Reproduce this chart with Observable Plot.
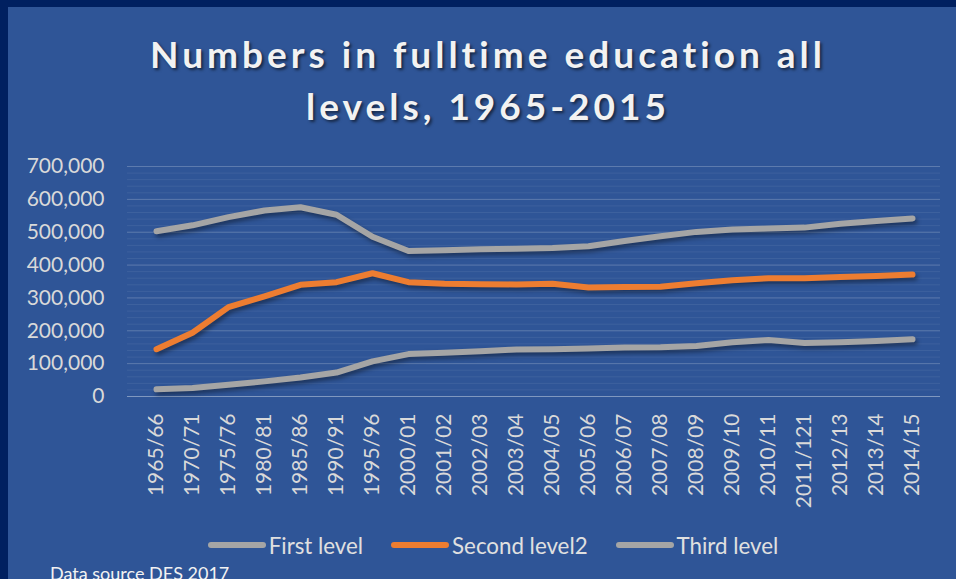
<!DOCTYPE html>
<html>
<head>
<meta charset="utf-8">
<script src="https://cdn.jsdelivr.net/npm/d3@7"></script>
<script src="https://cdn.jsdelivr.net/npm/@observablehq/plot@0.6"></script>
<style>
  html, body { margin: 0; padding: 0; width: 956px; height: 579px; overflow: hidden; background: #002060; }
  #panel { position: absolute; left: 8px; top: 7px; width: 948px; height: 572px; background: #2f5597; }
  #title { position: absolute; left: 10px; width: 956px; top: 28px; text-align: center; font-family: Lato, "Open Sans", sans-serif; font-weight: 700; font-size: 37px; line-height: 52px; letter-spacing: 4px; color: #f2f2f2; text-shadow: 2px 2px 3px rgba(0,0,0,0.55); }
  #chart { position: absolute; left: 0; top: 150px; }
  #legend { position: absolute; left: 0; width: 956px; top: 530px; height: 30px; display: flex; justify-content: center; align-items: center; font-family: Lato, sans-serif; font-size: 22.3px; color: #e0e0e0; padding-left: 30px; box-sizing: border-box; }
  .item { display: flex; align-items: center; margin: 0 14px; }
  .sw { width: 58px; height: 6px; border-radius: 3px; margin-right: 3px; }
  #caption { position: absolute; left: 50px; top: 562px; font-family: Lato, sans-serif; font-size: 18px; line-height: 22px; color: #f2f2f2; }
</style>
</head>
<body>
<div id="panel"></div>
<div id="title">Numbers in fulltime education all<br>levels, 1965-2015</div>
<div id="chart"></div>
<div id="legend"></div>
<div id="caption">Data source DES 2017</div>
<script>
const years = ["1965/66","1970/71","1975/76","1980/81","1985/86","1990/91","1995/96","2000/01","2001/02","2002/03","2003/04","2004/05","2005/06","2006/07","2007/08","2008/09","2009/10","2010/11","2011/121","2012/13","2013/14","2014/15"];
const seriesNames = ["First level", "Second level2", "Third level"];
const firstLevel  = [503000,521000,546000,566000,576000,553000,486000,443000,445000,448000,450000,452000,457000,473000,488000,501000,508000,511000,514000,526000,534000,542000];
const secondLevel = [144000,194000,272000,305000,340000,348000,375000,348000,343000,342000,341000,343000,332000,333000,334000,345000,354000,360000,360000,364000,367000,371000];
const thirdLevel  = [22000,26000,36000,46000,58000,73000,107000,129000,133000,138000,143000,144000,146000,149000,150000,154000,165000,172000,163000,165000,169000,174000];
const seriesColors = ["#a5a5a5", "#ed7d31", "#a5a5a5"];
const yTicks = [0,100000,200000,300000,400000,500000,600000,700000];
const minorTicks = d3.range(0, 700001, 20000);

const allSeries = [firstLevel, secondLevel, thirdLevel];
const rows = [];
allSeries.forEach((vals, s) => vals.forEach((v, i) => rows.push({year: years[i], value: v, series: seriesNames[s]})));

const plot = Plot.plot({
  width: 956,
  height: 356,
  marginLeft: 127,
  marginRight: 16,
  marginTop: 16,
  marginBottom: 110,
  style: { background: "transparent", fontFamily: "Lato, sans-serif", fontSize: "21px", color: "#d9d9d9", overflow: "visible" },
  x: { type: "point", domain: years, padding: 0.5, label: null },
  y: { domain: [0, 700000], label: null },
  color: { domain: seriesNames, range: seriesColors },
  marks: [
    Plot.ruleY(minorTicks, { stroke: "#ffffff", strokeOpacity: 0.07 }),
    Plot.ruleY(yTicks, { stroke: "#ffffff", strokeOpacity: 0.17 }),
    Plot.ruleY([0], { stroke: "#ffffff", strokeOpacity: 0.22 }),
    Plot.axisY({ ticks: yTicks, tickSize: 0, tickPadding: 23, tickFormat: d => d3.format(",")(d), label: null }),
    Plot.axisX({ tickSize: 0, tickPadding: 17, tickRotate: -90, label: null }),
    Plot.line(rows, { x: "year", y: "value", z: "series", stroke: "series", strokeWidth: 6, strokeLinecap: "round", strokeLinejoin: "round" })
  ]
});
d3.select(plot).selectAll("g[aria-label='line']").style("filter", "drop-shadow(2px 3px 2px rgba(0,0,0,0.4))");
document.getElementById("chart").appendChild(plot);

const legend = d3.select("#legend");
seriesNames.forEach((n, i) => {
  const it = legend.append("div").attr("class", "item");
  it.append("div").attr("class", "sw").style("background", seriesColors[i]);
  it.append("span").text(n);
});
</script>
</body>
</html>
